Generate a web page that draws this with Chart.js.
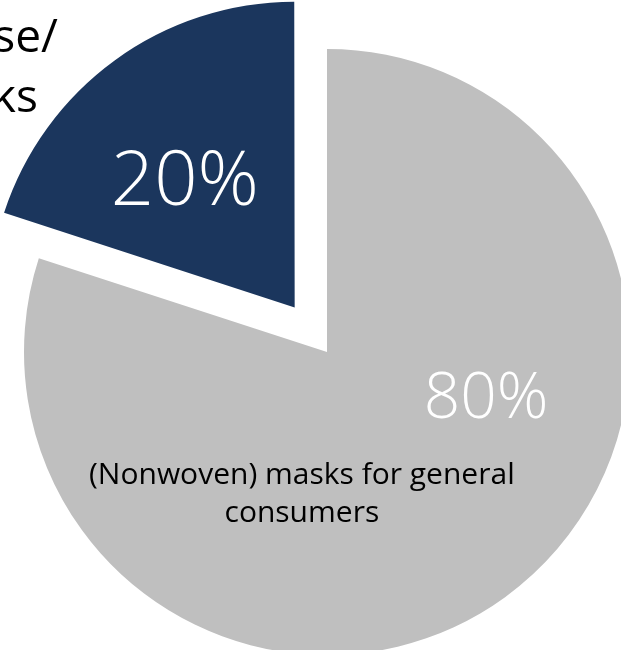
<!DOCTYPE html>
<html>
<head>
<meta charset="utf-8">
<script src="https://cdn.jsdelivr.net/npm/chart.js@4"></script>
<style>
  html, body { margin: 0; padding: 0; background: #fff; overflow: hidden; }
  #wrap { position: absolute; left: 0; top: 0; width: 654px; height: 704px; }
</style>
</head>
<body>
<div id="wrap"><canvas id="chart"></canvas></div>
<script>
const categories = ['(Nonwoven) masks for general consumers', 'Medical use/ masks'];
const shares = [80, 20];
const colors = ['#bfbfbf', '#1b365d'];
// Chart.js moves an arc by offset / 4 px
const explode = [0, 220];

// draws percentages and category names next to the arcs
const sliceLabels = {
  id: 'sliceLabels',
  afterDatasetsDraw(chart) {
    const ctx = chart.ctx;
    const gray = chart.getDatasetMeta(0).data[0];
    const cx = gray.x, cy = gray.y, R = gray.outerRadius;
    ctx.save();
    ctx.textAlign = 'center';
    ctx.textBaseline = 'alphabetic';

    ctx.fillStyle = '#ffffff';
    ctx.font = '300 76px "Open Sans"';
    ctx.fillText(shares[1] + '%', cx - 0.469 * R, cy - 0.485 * R);

    ctx.font = '300 64px "Open Sans"';
    ctx.fillText(shares[0] + '%', cx + 0.525 * R, cy + 0.218 * R);

    ctx.fillStyle = '#000000';
    ctx.font = '30px "Open Sans"';
    ctx.fillText('(Nonwoven) masks for general', cx - 0.083 * R, cy + 0.436 * R);
    ctx.fillText('consumers', cx - 0.083 * R, cy + 0.561 * R);

    // label of the small slice, mostly cut off at the left edge
    ctx.textAlign = 'right';
    ctx.font = '46px "Open Sans"';
    ctx.fillText('Medical use/', cx - 0.888 * R, cy - 0.99 * R);
    ctx.fillText('masks', cx - 0.954 * R, cy - 0.792 * R);
    ctx.restore();
  }
};

new Chart(document.getElementById('chart'), {
  type: 'pie',
  data: {
    labels: categories,
    datasets: [{
      data: shares,
      backgroundColor: colors,
      borderWidth: 0,
      offset: explode,
    }],
  },
  options: {
    responsive: true,
    maintainAspectRatio: false,
    animation: false,
    radius: 303,
    layout: { padding: 0 },
    plugins: {
      legend: { display: false },
      tooltip: { enabled: false },
    },
  },
  plugins: [sliceLabels],
});
</script>
</body>
</html>
